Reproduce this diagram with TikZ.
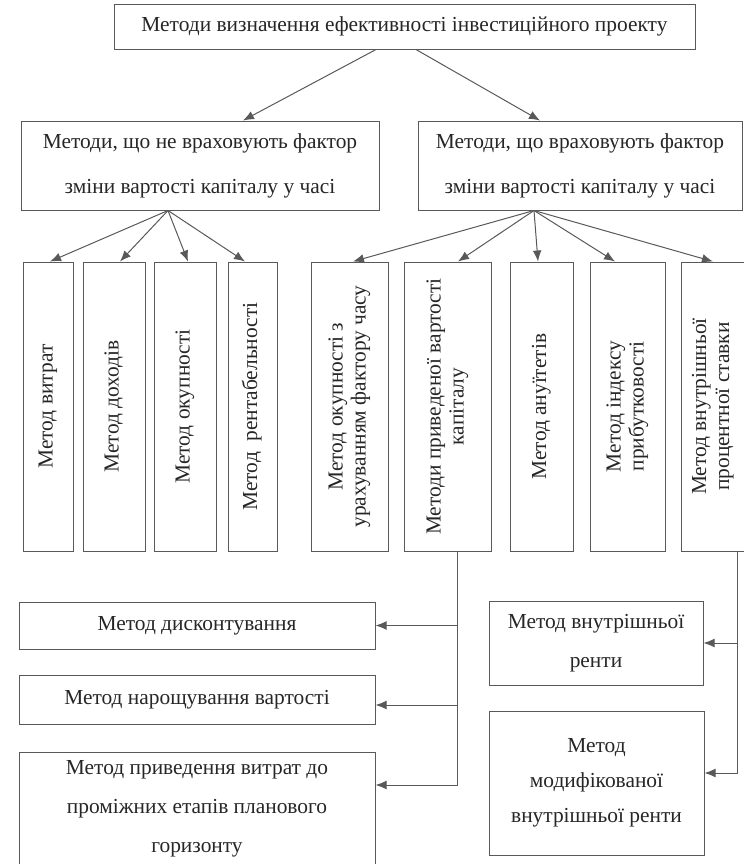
\documentclass[tikz,border=0pt]{standalone}
\usepackage{fontspec}
\setmainfont{Liberation Serif}
\usepackage{graphicx}
\usepackage{tikz}
\usetikzlibrary{arrows.meta}

\newcommand{\vtxt}[1]{\rotatebox{90}{\begin{tabular}{@{}c@{}}#1\end{tabular}}}

\begin{document}
\begin{tikzpicture}[x=0.5pt,y=-0.5pt,>={Latex[length=5.5pt,width=4.4pt]},
    every node/.style={text=black!85},
    methbox/.style={draw=black!65,line width=0.5pt,align=center,inner sep=0pt,font=\fontsize{10.7}{19.5}\selectfont},
    vmethbox/.style={methbox,minimum height=144.5pt,font=\fontsize{10.7}{11.5}\selectfont},
    link/.style={draw=black!65,line width=0.5pt}]
    \useasboundingbox (0,0) rectangle (744,864);
    \node[methbox,minimum width=290.5pt,minimum height=22.5pt] (top) at (404.5,26.5) {Методи визначення ефективності інвестиційного проекту};
    \node[methbox,minimum width=179pt,minimum height=44.5pt,font=\fontsize{10.7}{22.5}\selectfont] (midL) at (200,165.5) {Методи, що не враховують фактор\\зміни вартості капіталу у часі};
    \node[methbox,minimum width=162pt,minimum height=44.5pt,font=\fontsize{10.7}{22.5}\selectfont] (midR) at (580,165.5) {Методи, що враховують фактор\\зміни вартості капіталу у часі};
    \draw[link,->] ([xshift=-14.25pt]top.south) -- ([xshift=21.5pt]midL.north);
    \draw[link,->] ([xshift=5.75pt]top.south) -- ([xshift=-20pt]midR.north);

    % vertical boxes
    \node[vmethbox,minimum width=25pt] (v1) at (48,406.5) {\vtxt{Метод витрат}};
    \node[vmethbox,minimum width=31pt] (v2) at (114,406.5) {\vtxt{Метод доходів}};
    \node[vmethbox,minimum width=31pt] (v3) at (185,406.5) {\vtxt{Метод окупності}};
    \node[vmethbox,minimum width=24.5pt] (v4) at (252.5,406.5) {\vtxt{Метод~~рентабельності}};
    \node[vmethbox,minimum width=38.5pt] (v5) at (349.5,406.5) {\vtxt{Метод окупності з\\урахуванням фактору часу}};
    \node[vmethbox,minimum width=43.5pt] (v6) at (447.5,406.5) {\vtxt{Методи приведеної вартості\\капіталу}};
    \node[vmethbox,minimum width=31.5pt] (v7) at (541.5,406.5) {\vtxt{Метод ануїтетів}};
    \node[vmethbox,minimum width=37.5pt] (v8) at (627.5,406.5) {\vtxt{Метод індексу\\прибутковості}};
    \node[vmethbox,minimum width=32pt] (v9) at (713,406.5) {\vtxt{Метод внутрішньої\\процентної ставки}};
    \foreach \v/\s in {v1/1,v2/3,v3/1.5,v4/-3.75}
        \draw[link,->] ([xshift=-16pt]midL.south) -- ([xshift=\s pt]\v.north);
    \foreach \v/\s in {v5/1.75,v6/5.25,v7/-1.75,v8/-6.25,v9/0}
        \draw[link,->] ([xshift=-23pt]midR.south) -- ([xshift=\s pt]\v.north);

    % lower boxes
    \node[methbox,minimum width=178pt,minimum height=23.5pt] (disc) at (197,625.5) {Метод дисконтування};
    \node[methbox,minimum width=178pt,minimum height=24.5pt] (accr) at (197,699.5) {Метод нарощування вартості};
    \node[methbox,minimum width=178pt,minimum height=57pt] (stage) at (197,809) {Метод приведення витрат до\\проміжних етапів планового\\горизонту};
    \node[methbox,minimum width=107pt,minimum height=42pt] (irent) at (596,643) {Метод внутрішньої\\ренти};
    \node[methbox,minimum width=107.5pt,minimum height=72pt,font=\fontsize{10.7}{17.5}\selectfont] (mrent) at (596.5,783) {Метод\\модифікованої\\внутрішньої ренти};

    \coordinate (trunkL) at ([xshift=4.75pt]v6.south);
    \coordinate (trunkR) at ([xshift=12pt]v9.south);
    \coordinate (accrIn) at ([yshift=-2.75pt]accr.east);
    \draw[link,->] (trunkL) |- ([yshift=12pt]stage.east);   %to stage
    \draw[link,->] (trunkL |- disc.east) -- (disc.east);
    \draw[link,->] (trunkL |- accrIn) -- (accrIn);
    \draw[link,->] (trunkR) |- ([yshift=5pt]mrent.east);   %to mrent
    \draw[link,->] (trunkR |- irent.east) -- (irent.east);
\end{tikzpicture}
\end{document}
